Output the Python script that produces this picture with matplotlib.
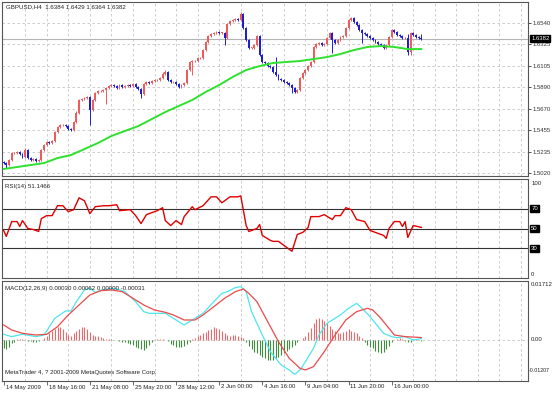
import matplotlib.pyplot as plt
import matplotlib.transforms as mtransforms
import numpy as np

plt.rcParams['font.family'] = ['Liberation Sans', 'DejaVu Sans']

# velas GBPUSD H4 (cierres)
closes = [
    1.5121, 1.5101, 1.5152, 1.5223, 1.5223, 1.5233, 1.5212, 1.5182, 1.5253, 1.5172,
    1.5152, 1.5162, 1.5142, 1.5152, 1.5253, 1.5304, 1.5334, 1.5324, 1.5344, 1.5436,
    1.5486, 1.5506, 1.5506, 1.5496, 1.5466, 1.5456, 1.5537, 1.5628, 1.5760, 1.5770,
    1.5780, 1.5790, 1.5658, 1.5760, 1.5831, 1.5851, 1.5851, 1.5861, 1.5881, 1.5902,
    1.5912, 1.5902, 1.5881, 1.5912, 1.5892, 1.5902, 1.5912, 1.5902, 1.5922, 1.5892,
    1.5871, 1.5820, 1.5922, 1.5942, 1.5932, 1.5952, 1.5962, 1.5962, 1.5983, 1.6023,
    1.6043, 1.5962, 1.5942, 1.5942, 1.5922, 1.5892, 1.5912, 1.5932, 1.6064, 1.6145,
    1.6155, 1.6155, 1.6185, 1.6185, 1.6266, 1.6347, 1.6408, 1.6428, 1.6439, 1.6449,
    1.6439, 1.6439, 1.6388, 1.6530, 1.6560, 1.6570, 1.6580, 1.6570, 1.6631, 1.6489,
    1.6368, 1.6287, 1.6287, 1.6317, 1.6408, 1.6216, 1.6145, 1.6135, 1.6104, 1.6094,
    1.6043, 1.6013, 1.5972, 1.5962, 1.5942, 1.5932, 1.5912, 1.5881, 1.5841, 1.5861,
    1.5983, 1.6033, 1.6064, 1.6104, 1.6145, 1.6297, 1.6327, 1.6337, 1.6317, 1.6327,
    1.6388, 1.6439, 1.6368, 1.6337, 1.6368, 1.6398, 1.6408, 1.6489, 1.6570, 1.6591,
    1.6550, 1.6520, 1.6469, 1.6439, 1.6428, 1.6408, 1.6388, 1.6368, 1.6347, 1.6327,
    1.6317, 1.6287, 1.6317, 1.6398, 1.6469, 1.6449, 1.6418, 1.6408, 1.6388, 1.6388,
    1.6246, 1.6439, 1.6418, 1.6398, 1.6384, 1.6382,
]
first_open = 1.5131

# mechas en pips (1 pip = 0.0001)
upper_pips = [
    10, 12, 8, 15, 10, 12, 9, 14, 25, 10,
    8, 12, 10, 9, 14, 12, 10, 8, 11, 15,
    12, 10, 9, 12, 10, 8, 14, 16, 12, 10,
    9, 12, 15, 10, 12, 9, 11, 10, 8, 12,
    10, 9, 12, 14, 10, 8, 12, 10, 11, 9,
    10, 12, 8, 10, 12, 9, 10, 12, 14, 16,
    20, 10, 9, 12, 10, 8, 12, 10, 15, 12,
    10, 9, 12, 10, 14, 12, 10, 9, 11, 10,
    12, 10, 9, 15, 12, 10, 9, 12, 20, 10,
    12, 9, 10, 12, 15, 10, 9, 12, 10, 8,
    12, 150, 10, 9, 12, 10, 8, 12, 10, 14,
    12, 10, 9, 15, 12, 10, 9, 12, 10, 8,
    12, 15, 10, 9, 12, 10, 8, 15, 12, 10,
    9, 12, 10, 8, 12, 10, 9, 12, 10, 8,
    12, 10, 14, 12, 15, 10, 9, 12, 10, 12,
    40, 12, 10, 9, 12, 45,
]
lower_pips = [
    12, 30, 10, 9, 12, 10, 8, 12, 10, 14,
    12, 10, 9, 12, 10, 8, 12, 10, 9, 12,
    10, 12, 9, 10, 12, 8, 10, 12, 9, 10,
    12, 10, 150, 9, 12, 10, 8, 12, 140, 10,
    12, 9, 10, 12, 10, 8, 12, 10, 9, 12,
    10, 40, 12, 9, 10, 12, 8, 10, 12, 9,
    10, 12, 9, 10, 12, 8, 10, 12, 9, 10,
    130, 10, 9, 12, 10, 8, 12, 10, 9, 12,
    10, 12, 70, 10, 12, 9, 10, 12, 8, 10,
    12, 10, 9, 12, 10, 8, 12, 10, 9, 12,
    10, 12, 9, 10, 12, 8, 10, 50, 12, 9,
    10, 12, 9, 10, 12, 8, 10, 12, 9, 10,
    12, 10, 130, 9, 12, 10, 8, 12, 10, 9,
    12, 10, 9, 100, 12, 10, 8, 12, 10, 9,
    10, 12, 9, 10, 12, 8, 10, 12, 9, 10,
    30, 30, 10, 12, 9, 18,
]

# media movil (verde)
ma_bars = [0, 5, 10, 15, 20, 25, 30, 35, 40, 45, 50, 55, 60, 65, 70, 75,
           80, 85, 90, 95, 100, 105, 110, 115, 120, 125, 130, 135, 140, 145, 150, 155]
ma_vals = [1.5061, 1.5081, 1.5101, 1.5121, 1.5172, 1.5202, 1.5263, 1.5324,
           1.5395, 1.5446, 1.5496, 1.5567, 1.5638, 1.5699, 1.5760, 1.5841,
           1.5912, 1.5993, 1.6064, 1.6104, 1.6135, 1.6145, 1.6155, 1.6175,
           1.6195, 1.6226, 1.6266, 1.6297, 1.6307, 1.6297, 1.6276, 1.6276]

# RSI(14)
rsi_bars = [0, 1, 3, 5, 6, 7, 9, 11, 13, 14, 16, 18, 20, 22, 24, 26, 28, 30, 32, 34,
            37, 39, 42, 43, 47, 49, 51, 53, 57, 59, 60, 62, 64, 66, 67, 70, 71, 74, 77, 79,
            81, 84, 87, 88, 90, 91, 94, 95, 96, 99, 100, 102, 104, 106, 107, 109, 111, 113, 114, 117,
            119, 122, 123, 125, 127, 129, 131, 134, 136, 139, 141, 142, 143, 145, 147, 148, 149, 150, 152, 155]
rsi_vals = [48, 42, 57, 57, 52, 58, 50, 49, 47, 60, 63, 63, 73, 73, 67, 69, 81, 78, 65, 72,
            73, 73, 74, 68, 69, 63, 55, 64, 68, 71, 58, 53, 58, 54, 62, 72, 69, 73, 82, 82,
            76, 82, 82, 83, 53, 47, 50, 54, 43, 38, 37, 37, 33, 29, 27, 44, 46, 51, 62, 62,
            64, 59, 63, 63, 71, 69, 59, 57, 48, 45, 43, 40, 50, 57, 57, 52, 57, 41, 53, 51.1466]

# MACD(12,26,9): linea principal (cian) y senal (roja)
macd_bars = [0, 3, 7, 12, 15, 19, 23, 25, 27, 30, 32, 34, 37, 40, 42, 45, 49, 52, 54, 60,
             63, 67, 70, 74, 78, 81, 83, 86, 88, 90, 92, 96, 99, 103, 106, 108, 110, 112, 115, 117,
             120, 123, 125, 128, 131, 133, 136, 139, 141, 144, 146, 149, 152, 155]
macd_vals = [0.00156, 0.00088, 0.00156, 0.00088, 0.00136, 0.00623, 0.00837, 0.00837, 0.01109, 0.01450,
             0.01498, 0.01382, 0.01450, 0.01498, 0.01479, 0.01401, 0.01109, 0.00817, 0.00769, 0.00769,
             0.00623, 0.00428, 0.00574, 0.00769, 0.01109, 0.01352, 0.01401, 0.01518, 0.01547, 0.01401,
             0.00817, 0.00136, -0.00350, -0.00740, -0.00885, -0.01012, -0.00885, -0.00642, -0.00253, 0.00136,
             0.00477, 0.00623, 0.00720, 0.00915, 0.01061, 0.00915, 0.00671, 0.00379, 0.00185, 0.00088,
             0.00058, 0.00088, -0.00010, 0.00030]
signal_bars = [0, 3, 7, 12, 16, 20, 24, 28, 32, 36, 40, 44, 48, 52, 56, 60, 63, 67, 71, 74,
               78, 82, 86, 89, 91, 94, 98, 102, 106, 110, 112, 115, 119, 123, 127, 131, 135, 137, 140, 143,
               145, 149, 155]
signal_vals = [0.00428, 0.00282, 0.00185, 0.00136, 0.00156, 0.00379, 0.00720, 0.01012, 0.01304, 0.01430,
               0.01450, 0.01401, 0.01207, 0.01012, 0.00866, 0.00798, 0.00720, 0.00574, 0.00574, 0.00720,
               0.00963, 0.01207, 0.01401, 0.01479, 0.01352, 0.01109, 0.00525, -0.00058, -0.00545, -0.00837,
               -0.00885, -0.00788, -0.00350, 0.00136, 0.00574, 0.00817, 0.00915, 0.00866, 0.00623, 0.00331,
               0.00136, 0.00088, 0.00062]
# histograma en unidades de 0.0001
hist_e4 = [
    -25, -27, -20, -11, -6, 2, 3, 1, -2, -3,
    -5, -6, -7, -5, -2, 5, 12, 18, 24, 30,
    36, 38, 32, 22, 15, 12, 18, 25, 32, 36,
    38, 30, 22, 15, 12, 10, 7, 5, 3, 1,
    1, 0, -2, -4, -6, -8, -10, -13, -16, -20,
    -25, -28, -30, -24, -16, -8, -2, 1, 2, 1,
    -1, -3, -12, -16, -20, -21, -20, -18, -12, -6,
    2, 6, 10, 14, 18, 22, 28, 32, 36, 34,
    30, 26, 18, 14, 12, 15, 14, 12, 8, 4,
    -8, -18, -28, -35, -40, -45, -50, -55, -60, -60,
    -58, -55, -50, -45, -40, -32, -28, -22, -15, -8,
    -2, 4, 12, 22, 35, 50, 60, 62, 60, 55,
    48, 40, 32, 25, 20, 18, 22, 26, 30, 26,
    22, 18, 12, 4, -8, -15, -20, -25, -32, -36,
    -38, -36, -28, -18, -8, -2, 3, 4, 2, -4,
    -8, -6, -2, 1, -2, -3,
]

price_ticks = [1.6540, 1.6325, 1.6105, 1.5890, 1.5670, 1.5455, 1.5235, 1.5020]
last_price = 1.6382
grid_bars = list(range(8, 200, 8))
date_bars = [0, 16, 32, 48, 64, 80, 96, 112, 128, 144]
date_labels = ['14 May 2009', '18 May 16:00', '21 May 08:00', '25 May 20:00', '28 May 12:00',
               '2 Jun 00:00', '4 Jun 16:00', '9 Jun 04:00', '11 Jun 20:00', '16 Jun 00:00']

W, H = 553, 393
fig = plt.figure(figsize=(W / 100, H / 100), dpi=100)
fig.patch.set_facecolor('white')


def panel(top, bottom):
    ax = fig.add_axes([2 / W, 1 - bottom / H, 526 / W, (bottom - top) / H])
    ax.set_xlim(-0.6, 194.6)
    for s in ax.spines.values():
        s.set_color('#555555')
        s.set_linewidth(0.8)
    ax.set_xticks(grid_bars, minor=True)
    ax.set_xticks([])
    ax.grid(which='minor', axis='x', color='#c4c4c4', linewidth=0.6, linestyle=(0, (3, 3)))
    ax.tick_params(which='minor', length=0)
    ax.yaxis.tick_right()
    ax.tick_params(axis='y', length=2, width=0.6, pad=1.5, labelsize=4.3, colors='#333333')
    ax.set_axisbelow(True)
    return ax


def right_text(ax, y, s, box=False, size=4.3, dx=1.006):
    kw = dict(transform=ax.get_yaxis_transform(), fontsize=size, va='center', ha='left',
              color='#222222', clip_on=False)
    if box:
        kw['color'] = 'white'
        kw['bbox'] = dict(boxstyle='square,pad=0.15', fc='black', ec='black')
    ax.text(dx, y, s, **kw)


ax1 = panel(2, 176)
ax2 = panel(179, 278)
ax3 = panel(281, 381)

# --- precio ---
x = np.arange(len(closes))
o = np.array([first_open] + closes[:-1])
c = np.array(closes)
top = np.maximum(o, c)
bot = np.minimum(o, c)
highs = top + np.array(upper_pips) * 0.0001
lows = bot - np.array(lower_pips) * 0.0001
colors = np.where(c >= o, '#ef5b5b', '#1f1fd0')

ax1.set_ylim(1.4990, 1.6753)
ax1.set_yticks(price_ticks)
ax1.set_yticklabels(['%.4f' % p for p in price_ticks])
ax1.grid(axis='y', color='#c4c4c4', linewidth=0.6, linestyle=(0, (3, 3)))
ax1.axhline(last_price, color='#b4b4b4', linewidth=0.8, zorder=1)
ax1.vlines(x, lows, highs, colors=colors, linewidth=0.7, zorder=2)
ax1.bar(x, np.maximum(top - bot, 0.0005), bottom=bot, width=0.7, color=colors,
        linewidth=0, zorder=3)
ax1.plot(ma_bars, ma_vals, color='#2fe02f', linewidth=1.4, zorder=4)
right_text(ax1, last_price, '%.4f' % last_price, box=True)
ax1.text(0.008, 0.985, 'GBPUSD,H4  1.6384 1.6429 1.6364 1.6382', transform=ax1.transAxes,
         fontsize=4.4, va='top', ha='left', color='#222222')

# --- RSI ---
ax2.set_ylim(0, 100)
ax2.set_yticks([])
for lvl in [70, 50, 30]:
    ax2.axhline(lvl, color='#333333', linewidth=0.8, zorder=1)
    right_text(ax2, lvl, str(lvl), box=True)
right_text(ax2, 95.5, '100')
right_text(ax2, 4, '0')
ax2.plot(rsi_bars, rsi_vals, color='#e00000', linewidth=1.0, zorder=3)
ax2.text(0.006, 0.95, 'RSI(14) 51.1466', transform=ax2.transAxes,
         fontsize=4.4, va='top', ha='left', color='#222222')

# --- MACD ---
ax3.set_ylim(-0.01207, 0.01712)
ax3.set_yticks([])
ax3.axhline(0, color='#c4c4c4', linewidth=0.6, linestyle=(0, (3, 3)), zorder=0)
hist = np.array(hist_e4) * 0.0001
hcol = np.where(hist >= 0, '#e86a6a', '#3f8f3f')
ax3.vlines(x, 0, hist, colors=hcol, linewidth=0.8, zorder=2)
ax3.plot(macd_bars, macd_vals, color='#4de6ee', linewidth=0.9, zorder=3)
ax3.plot(signal_bars, signal_vals, color='#ec4a4a', linewidth=0.9, zorder=4)
right_text(ax3, 0.0160, '0.01712')
right_text(ax3, 0.0, '0.00')
right_text(ax3, -0.0089, '-0.01207', size=3.8, dx=1.002)
ax3.text(0.006, 0.95, 'MACD(12,26,9) 0.00030 0.00062 0.00000 -0.00031', transform=ax3.transAxes,
         fontsize=4.4, va='top', ha='left', color='#222222')
ax3.text(0.006, 0.06, 'MetaTrader 4, ? 2001-2009 MetaQuotes Software Corp.', transform=ax3.transAxes,
         fontsize=4.4, va='bottom', ha='left', color='#222222')

# fechas abajo
ax3.set_xticks(date_bars)
ax3.set_xticklabels([])
ax3.tick_params(axis='x', which='major', length=3, width=0.6, color='#555555', direction='out')
for b, lab in zip(date_bars, date_labels):
    ax3.text(b + 0.7, -0.06, lab, transform=ax3.get_xaxis_transform(), fontsize=4.3,
             va='center', ha='left', color='#222222', clip_on=False)

plt.savefig('out.png', dpi=100)
